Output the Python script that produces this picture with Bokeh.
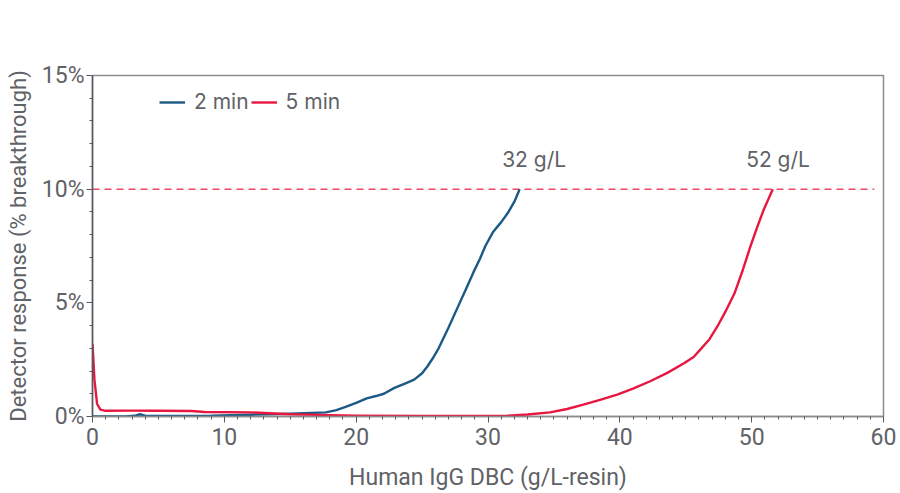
from bokeh.plotting import figure
from bokeh.models import (Legend, LegendItem, FixedTicker, CustomJSTickFormatter, Label)
from bokeh.embed import file_html
from bokeh.resources import INLINE

# ---- data ----
x_2min = [0, 2.5, 3.2, 3.6, 4.1, 6, 9, 12, 15, 17.7, 18.5, 19.2, 20.0, 20.8, 21.5, 22.1,
          22.9, 23.7, 24.4, 25.0, 25.4, 25.8, 26.2, 27.0, 27.7, 28.4, 28.9, 29.4, 29.8,
          30.4, 31.0, 31.5, 32.0, 32.4]
y_2min = [0.0, 0.0, 0.03, 0.1, 0.02, 0.02, 0.03, 0.08, 0.12, 0.18, 0.28, 0.42, 0.6,
          0.8, 0.9, 1.0, 1.26, 1.45, 1.62, 1.9, 2.2, 2.55, 2.94, 3.9, 4.8, 5.7,
          6.35, 6.95, 7.5, 8.13, 8.55, 8.95, 9.45, 10.0]

x_5min = [0, 0.15, 0.35, 0.6, 1.0, 3, 5, 7.5, 8.5, 12, 15, 18, 20, 25, 30, 31.5,
          33, 34.7, 36, 37.3, 38.5, 39.8, 41, 42.3, 43.6, 44.9, 45.6, 46.1, 46.8,
          47.4, 48.0, 48.7, 49.3, 49.9, 50.4, 50.9, 51.3, 51.6]
y_5min = [3.2, 1.6, 0.55, 0.3, 0.25, 0.26, 0.25, 0.24, 0.2, 0.18, 0.1, 0.06, 0.04,
          0.02, 0.02, 0.04, 0.09, 0.18, 0.33, 0.53, 0.73, 0.96, 1.23, 1.55, 1.92,
          2.35, 2.62, 2.94, 3.4, 3.96, 4.6, 5.42, 6.4, 7.47, 8.3, 9.08, 9.6, 10.0]

threshold_x = [0, 59.3]
threshold_y = [10, 10]

ann_text = ["32 g/L", "52 g/L"]
ann_x = [33.5, 52.0]
ann_y = [11.3, 11.3]

y_ticks = [0, 5, 10, 15]
y_minor = [1, 2, 3, 4, 6, 7, 8, 9, 11, 12, 13, 14]
x_ticks = [0, 10, 20, 30, 40, 50, 60]
x_minor = [i for i in range(61) if i % 10]

BLUE = "#1b5a85"
RED = "#e8173f"
GRAY = "#5f6266"

p = figure(width=900, height=493, output_backend="svg", toolbar_location=None,
           x_range=(0, 60), y_range=(0, 15))
p.min_border_left = 92
p.min_border_right = 17
p.min_border_top = 75
p.min_border_bottom = 76
p.background_fill_color = "white"
p.border_fill_color = "white"
p.outline_line_color = "#8a8c8f"
p.outline_line_width = 1.5
p.grid.visible = False

p.line(threshold_x, threshold_y, line_color="#ec4866", line_width=1.5, line_dash="7 5")
r2 = p.line(x_2min, y_2min, line_color=BLUE, line_width=2.4, line_join="round")
r5 = p.line(x_5min, y_5min, line_color=RED, line_width=2.4, line_join="round")

for t, xx, yy in zip(ann_text, ann_x, ann_y):
    p.add_layout(Label(x=xx, y=yy, text=t, text_align="center", text_baseline="middle",
                       text_font="Inter", text_font_size="21px", text_color=GRAY))

legend = Legend(items=[LegendItem(label="2 min", renderers=[r2]),
                       LegendItem(label="5 min", renderers=[r5])],
                orientation="horizontal", location=(67, 302),
                background_fill_alpha=0, border_line_alpha=0,
                label_text_font="Inter", label_text_font_size="21px",
                label_text_color=GRAY, glyph_width=26, spacing=2,
                label_standoff=9, padding=0, margin=0)
p.add_layout(legend, "center")

# axes
p.yaxis.ticker = FixedTicker(ticks=y_ticks, minor_ticks=y_minor)
p.xaxis.ticker = FixedTicker(ticks=x_ticks, minor_ticks=x_minor)
p.yaxis.formatter = CustomJSTickFormatter(code="return tick + '%';")

for ax in (p.xaxis, p.yaxis):
    ax.axis_line_color = "#55585c"
    ax.axis_line_width = 1.5
    ax.major_tick_line_color = "#55585c"
    ax.minor_tick_line_color = "#55585c"
    ax.major_tick_in = 0
    ax.major_tick_out = 6
    ax.minor_tick_in = 0
    ax.minor_tick_out = 3
    ax.major_label_text_font = "Roboto"
    ax.major_label_text_font_size = "23px"
    ax.major_label_text_color = GRAY
    ax.axis_label_text_font = "Roboto"
    ax.axis_label_text_font_style = "normal"
    ax.axis_label_text_color = GRAY

p.xaxis.axis_line_color = "#8a8c8f"
p.xaxis.axis_label = "Human IgG DBC (g/L-resin)"
p.yaxis.axis_label = "Detector response (% breakthrough)"
p.xaxis.axis_label_text_font_size = "23px"
p.yaxis.axis_label_text_font_size = "22px"
p.xaxis.major_label_standoff = 5
p.xaxis.axis_label_standoff = 16
p.yaxis.major_label_standoff = 2
p.yaxis.axis_label_standoff = 8

open("out.html", "w").write(file_html(p, INLINE))
